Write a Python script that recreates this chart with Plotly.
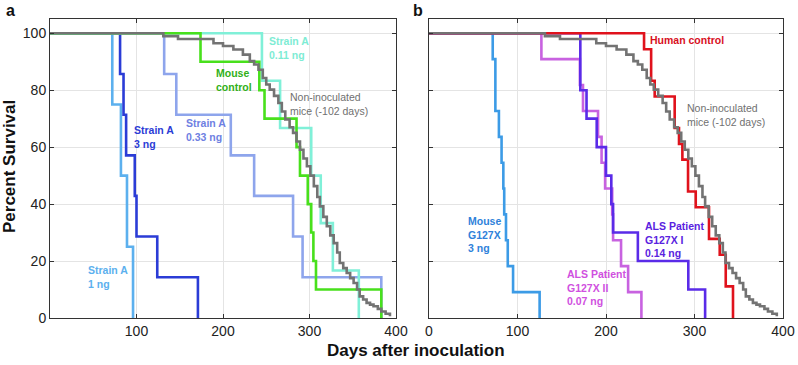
import plotly.graph_objects as go

# ---------------- data ----------------
# Panel a
a_1ng_days = [72, 82, 89, 96]
a_1ng_surv = [75, 50, 25, 0]
a_3ng_days = [81, 85, 88, 98, 100, 124, 171]
a_3ng_surv = [85.7, 71.4, 57.1, 42.9, 28.6, 14.3, 0]
a_033ng_days = [132, 146, 209, 236, 281, 292, 383]
a_033ng_surv = [85.7, 71.4, 57.1, 42.9, 28.6, 14.3, 0]
a_ctrl_days = [174, 242, 248, 285, 289, 298, 302, 304.5, 307.5, 383]
a_ctrl_surv = [90, 80, 70, 60, 50, 40, 30, 20, 10, 0]
a_011ng_days = [245, 266, 302, 313, 327, 357]
a_011ng_surv = [83.3, 66.7, 50, 33.3, 16.7, 0]

# Non-inoculated mice (same in both panels)
noninoc_days = [131, 148, 189, 200, 212, 223, 231, 236, 241, 246, 250, 254, 259, 264,
                268, 272, 277, 281, 285, 289, 293, 297, 301, 305, 309, 312, 316, 320,
                324, 328, 332, 335, 339, 343, 347, 351, 355, 358, 362, 366, 370, 374,
                379, 383, 388, 393]
noninoc_surv = [99, 98, 96.5, 95.5, 94.3, 92.5, 90.2, 89, 87.2, 84.3, 82, 80.2, 78, 75.5,
                72.5, 69.7, 67, 65, 62, 59.1, 56, 53.3, 50, 46.3, 42.5, 39.2, 35.5, 32.2,
                29, 26.3, 23, 19.3, 17.5, 15.8, 14, 12.3, 10, 7.6, 6.5, 5.3, 4.7, 4.1,
                3.2, 2.3, 1.5, 0.6]

# Panel b
b_mouse_days = [72, 75, 75, 79, 82, 84, 85, 87, 89, 95, 125]
b_mouse_surv = [90.9, 81.8, 72.7, 63.6, 54.5, 45.5, 36.4, 27.3, 18.2, 9.1, 0]
b_als2_days = [127, 170.5, 174, 191, 195, 199, 207, 208, 217, 225, 240]
b_als2_surv = [90.9, 81.8, 72.7, 63.6, 54.5, 45.5, 36.4, 27.3, 18.2, 9.1, 0]
b_als1_days = [171, 171, 178, 189.5, 200, 206, 208, 236, 293, 312]
b_als1_surv = [90, 80, 70, 60, 50, 40, 30, 20, 10, 0]
b_human_days = [243, 251, 255, 277.6, 282.5, 286.3, 292.7, 301.4, 316.4, 328.5, 335.3, 343.5]
b_human_surv = [94.4, 83.3, 77.8, 66.7, 61.1, 55.6, 44.4, 38.9, 27.8, 22.2, 11.1, 0]

x_ticks = [0, 100, 200, 300, 400]
a_x_ticktext = ["", "100", "200", "300", "400"]
b_x_ticktext = ["0", "100", "200", "300", "400"]
y_ticks = [0, 20, 40, 60, 80, 100]
y_ticktext = ["0", "20", "40", "60", "80", "100"]

# ---------------- styling ----------------
W, H = 798, 365
FONT = "Liberation Sans, Arial, sans-serif"
LW = 2.6

C_1NG = "#5cb0ee"
C_3NG = "#2b3cd6"
C_033 = "#8ea5ec"
C_CTRL = "#48e01c"
C_011 = "#80f0d8"
C_GRAY = "#737373"
C_MOUSE = "#3c9be6"
C_ALS2 = "#c862e0"
C_ALS1 = "#5a2be8"
C_HUMAN = "#e0121c"


def px_x(p):
    return p / W


def px_y(p):
    return 1 - p / H


fig = go.Figure()


def add_curve(days, surv, color, xa, ya):
    fig.add_trace(go.Scatter(
        x=[0] + list(days), y=[100] + list(surv),
        mode="lines", line=dict(color=color, width=LW, shape="hv"),
        xaxis=xa, yaxis=ya, showlegend=False, hoverinfo="skip"))


# panel a
add_curve(a_1ng_days, a_1ng_surv, C_1NG, "x", "y")
add_curve(a_3ng_days, a_3ng_surv, C_3NG, "x", "y")
add_curve(a_033ng_days, a_033ng_surv, C_033, "x", "y")
add_curve(a_011ng_days, a_011ng_surv, C_011, "x", "y")
add_curve(a_ctrl_days, a_ctrl_surv, C_CTRL, "x", "y")
add_curve(noninoc_days, noninoc_surv, C_GRAY, "x", "y")
# panel b
add_curve(b_mouse_days, b_mouse_surv, C_MOUSE, "x2", "y2")
add_curve(b_als2_days, b_als2_surv, C_ALS2, "x2", "y2")
add_curve(b_als1_days, b_als1_surv, C_ALS1, "x2", "y2")
add_curve(b_human_days, b_human_surv, C_HUMAN, "x2", "y2")
add_curve(noninoc_days, noninoc_surv, C_GRAY, "x2", "y2")

y_dom = [px_y(318), px_y(19)]
axis_common = dict(
    ticks="inside", ticklen=4, tickcolor="#333333", showline=True, linecolor="#333333",
    linewidth=1, mirror="ticks", showgrid=True, gridcolor="#e4e4e4", gridwidth=1,
    zeroline=False, automargin=False,
    tickfont=dict(family=FONT, size=14, color="#222222"),
)

fig.update_layout(
    width=W, height=H, margin=dict(l=0, r=0, t=0, b=0, pad=0, autoexpand=False),
    paper_bgcolor="white", plot_bgcolor="white",
    font=dict(family=FONT),
    xaxis=dict(domain=[px_x(50), px_x(396)], range=[0, 400], anchor="y",
               tickvals=x_ticks, ticktext=a_x_ticktext, **axis_common),
    yaxis=dict(domain=y_dom, range=[0, 105], anchor="x",
               tickvals=y_ticks, ticktext=y_ticktext, **axis_common),
    xaxis2=dict(domain=[px_x(429), px_x(783)], range=[0, 400], anchor="y2",
                tickvals=x_ticks, ticktext=b_x_ticktext, **axis_common),
    yaxis2=dict(domain=y_dom, range=[0, 105], anchor="x2",
                tickvals=y_ticks, showticklabels=False, **axis_common),
)


def label(text, left, top, color, size=10.5, bold=True):
    t = "<br>".join(f"<b>{s}</b>" if bold else s for s in text.split("\n"))
    fig.add_annotation(text=t, xref="paper", yref="paper", x=px_x(left), y=px_y(top),
                       xanchor="left", yanchor="top", align="left", showarrow=False,
                       font=dict(family=FONT, size=size, color=color))


# panel a labels
label("Strain A\n1 ng", 86, 262, C_1NG)
label("Strain A\n3 ng", 132, 122, C_3NG)
label("Strain A\n0.33 ng", 184, 115, "#6e80e2")
label("Mouse\ncontrol", 214, 65, "#30b018")
label("Strain A\n0.11 ng", 267, 33, "#7eecd4")
label("Non-inoculated\nmice (-102 days)", 288, 89, "#707070", bold=False)
# panel b labels
label("Human control", 648, 32, "#d8101e")
label("Non-inoculated\nmice (-102 days)", 685, 100, "#707070", bold=False)
label("ALS Patient\nG127X I\n0.14 ng", 643, 218, "#5a22e0")
label("ALS Patient\nG127X II\n0.07 ng", 565, 266, "#d050e0")
label("Mouse\nG127X\n3 ng", 466, 213, "#2f82da")

# panel letters and axis titles
fig.add_annotation(text="<b>a</b>", xref="paper", yref="paper", x=px_x(10), y=px_y(10),
                   xanchor="center", yanchor="middle", showarrow=False,
                   font=dict(family=FONT, size=16, color="#111111"))
fig.add_annotation(text="<b>b</b>", xref="paper", yref="paper", x=px_x(418), y=px_y(10),
                   xanchor="center", yanchor="middle", showarrow=False,
                   font=dict(family=FONT, size=16, color="#111111"))
fig.add_annotation(text="<b>Percent Survival</b>", xref="paper", yref="paper",
                   x=px_x(9), y=px_y(167), xanchor="center", yanchor="middle",
                   textangle=-90, showarrow=False,
                   font=dict(family=FONT, size=17, color="#111111"))
fig.add_annotation(text="<b>Days after inoculation</b>", xref="paper", yref="paper",
                   x=px_x(416), y=px_y(350), xanchor="center", yanchor="middle",
                   showarrow=False, font=dict(family=FONT, size=17, color="#111111"))

fig.write_html(
    "out.html",
    config={"displayModeBar": False, "staticPlot": True},
    post_script="document.body.style.margin='0';document.body.style.overflow='hidden';",
)
